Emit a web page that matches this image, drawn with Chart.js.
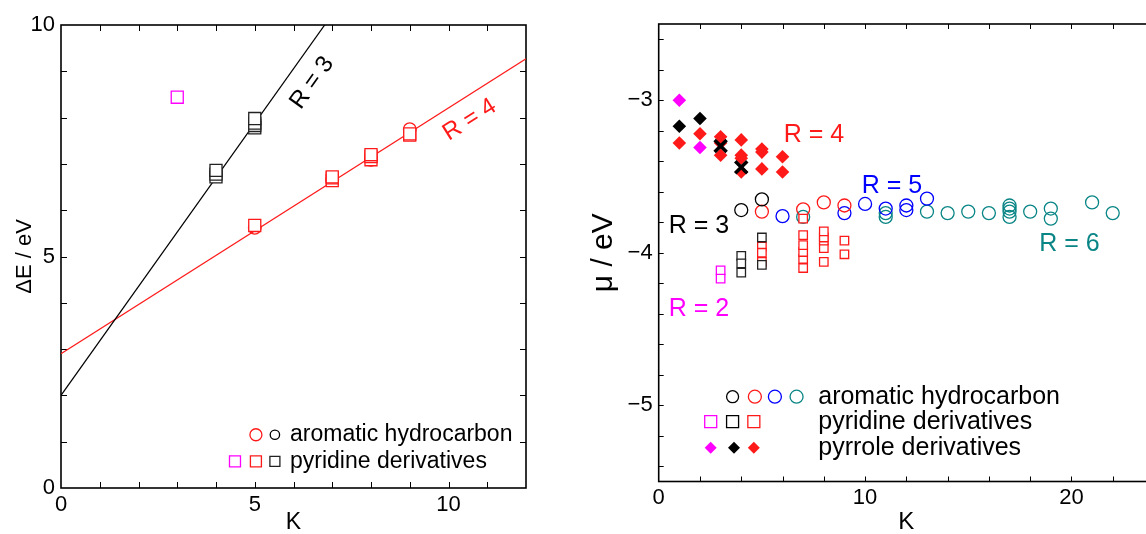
<!DOCTYPE html>
<html>
<head>
<meta charset="utf-8">
<script src="https://cdn.jsdelivr.net/npm/chart.js@4/dist/chart.umd.min.js"></script>
<style>
  html, body { margin: 0; padding: 0; background: #fff; overflow: hidden; width: 1146px; height: 534px; }
  #left { position: absolute; left: 0; top: 0; }
  #right { position: absolute; left: 580px; top: 0; }
</style>
</head>
<body>
<canvas id="left" width="560" height="534"></canvas>
<canvas id="right" width="600" height="534"></canvas>
<script>
// ---- left panel: gap dE (eV) against K ----
var leftMagSqK = [3];
var leftMagSqE = [8.44];
var leftBlkSqK = [4, 4, 4, 5, 5, 5, 5];
var leftBlkSqE = [6.72, 6.78, 6.86, 7.78, 7.83, 7.88, 7.98];
var leftRedCircK = [5, 7, 8, 9];
var leftRedCircE = [5.62, 6.66, 7.09, 7.75];
var leftRedSqK = [5, 7, 7, 7, 8, 8, 8, 9, 9];
var leftRedSqE = [5.67, 6.64, 6.70, 6.72, 7.09, 7.16, 7.20, 7.62, 7.65];
// fitted lines (end points)
var fitR3K = [0, 12];
var fitR3E = [2.0, 16.11];
var fitR4K = [0, 12];
var fitR4E = [2.9, 9.27];

var leftKTicks = [0, 1, 2, 3, 4, 5, 6, 7, 8, 9, 10, 11, 12];
var leftETicks = [0, 1, 2, 3, 4, 5, 6, 7, 8, 9, 10];

// ---- right panel: mu (eV) against K ----
// aromatic hydrocarbons (circles)
var aroR3K = [4, 5];
var aroR3Mu = [-3.72, -3.65];
var aroR4K = [5, 7, 8, 9];
var aroR4Mu = [-3.73, -3.715, -3.67, -3.69];
var aroR5K = [6, 9, 10, 11, 12, 12, 13];
var aroR5Mu = [-3.76, -3.74, -3.68, -3.71, -3.69, -3.72, -3.645];
var aroR6K = [7, 11, 11, 13, 14, 15, 16, 17, 17, 17, 17, 18, 19, 19, 21, 22];
var aroR6Mu = [-3.765, -3.74, -3.765, -3.73, -3.74, -3.73, -3.74, -3.69, -3.71, -3.73, -3.765, -3.73, -3.71, -3.776, -3.67, -3.74];
// pyridine derivatives (squares)
var pyrR2K = [3, 3];
var pyrR2Mu = [-4.115, -4.17];
var pyrR3K = [4, 4, 4, 5, 5];
var pyrR3Mu = [-4.02, -4.07, -4.13, -3.90, -4.08];
var pyrR4K = [5, 5, 5, 7, 7, 7, 7, 7, 7, 8, 8, 8, 8, 8, 9, 9];
var pyrR4Mu = [-3.96, -4.00, -4.06, -4.10, -4.04, -3.995, -3.95, -3.885, -3.776, -4.06, -3.97, -3.92, -3.90, -3.86, -4.01, -3.92];
// pyrrole derivatives (diamonds)
var polR2K = [1, 2];
var polR2Mu = [-3.0, -3.31];
var polR3K = [1, 2];
var polR3Mu = [-3.17, -3.12];
var polR3xK = [3, 4];
var polR3xMu = [-3.30, -3.44];
var polR4K = [1, 2, 3, 3, 3, 4, 4, 4, 4, 5, 5, 5, 6, 6];
var polR4Mu = [-3.28, -3.22, -3.24, -3.28, -3.36, -3.26, -3.36, -3.38, -3.47, -3.32, -3.34, -3.45, -3.37, -3.47];

var rightKTicks = [0, 2, 4, 6, 8, 10, 12, 14, 16, 18, 20, 22, 24];
var rightMuTicks = [-5.4, -5.2, -5, -4.8, -4.6, -4.4, -4.2, -4, -3.8, -3.6, -3.4, -3.2, -3, -2.8, -2.6];

var FONT = '"Liberation Sans", Arial, Helvetica, sans-serif';
var RED = '#ff1a1a', MAG = '#ff00ff', BLUE = '#0000ff', TEAL = '#0a8585', BLK = '#000000';

function pts(ks, ys) {
  return ks.map(function (k, i) { return {x: k, y: ys[i]}; });
}

function drawMark(ctx, style, x, y, s, color, lw) {
  ctx.save();
  ctx.strokeStyle = color;
  ctx.fillStyle = color;
  ctx.lineWidth = lw || 1.3;
  ctx.beginPath();
  if (style === 'circle') {
    ctx.arc(x, y, s, 0, Math.PI * 2);
    ctx.stroke();
  } else if (style === 'rect') {
    ctx.fillStyle = '#fff';
    ctx.rect(x - s, y - s, 2 * s, 2 * s);
    ctx.fill();
    ctx.stroke();
  } else if (style === 'diamond') {
    ctx.moveTo(x, y - s); ctx.lineTo(x + s, y); ctx.lineTo(x, y + s); ctx.lineTo(x - s, y);
    ctx.closePath();
    ctx.fill();
  }
  ctx.restore();
}

// frame + inward ticks on all four sides
function frameTicks(tickLen) {
  return {
    id: 'frameTicks',
    beforeDatasetsDraw: function (chart) {
      var ctx = chart.ctx, a = chart.chartArea;
      var sx = chart.scales.x, sy = chart.scales.y;
      ctx.save();
      ctx.strokeStyle = '#000';
      ctx.lineWidth = 1;
      ctx.beginPath();
      sx.ticks.forEach(function (t) {
        if (t.value <= sx.min || t.value >= sx.max) return;
        var p = Math.round(sx.getPixelForValue(t.value)) + 0.5;
        ctx.moveTo(p, a.bottom); ctx.lineTo(p, a.bottom - tickLen);
        ctx.moveTo(p, a.top); ctx.lineTo(p, a.top + tickLen);
      });
      sy.ticks.forEach(function (t) {
        if (t.value <= sy.min || t.value >= sy.max) return;
        var p = Math.round(sy.getPixelForValue(t.value)) + 0.5;
        ctx.moveTo(a.left, p); ctx.lineTo(a.left + tickLen, p);
        ctx.moveTo(a.right, p); ctx.lineTo(a.right - tickLen, p);
      });
      ctx.stroke();
      ctx.lineWidth = 1.6;
      ctx.strokeRect(a.left, a.top, a.right - a.left, a.bottom - a.top);
      ctx.restore();
    }
  };
}

// text labels and legend, placed in data coordinates
function notes(items, legend) {
  return {
    id: 'notes',
    afterDatasetsDraw: function (chart) {
      var ctx = chart.ctx, sx = chart.scales.x, sy = chart.scales.y;
      items.forEach(function (n) {
        ctx.save();
        ctx.translate(sx.getPixelForValue(n.k), sy.getPixelForValue(n.y));
        if (n.line) {
          var dx = sx.getPixelForValue(n.line[0][1]) - sx.getPixelForValue(n.line[0][0]);
          var dy = sy.getPixelForValue(n.line[1][1]) - sy.getPixelForValue(n.line[1][0]);
          ctx.rotate(Math.atan2(dy, dx));
        }
        ctx.font = n.size + 'px ' + FONT;
        ctx.fillStyle = n.color;
        ctx.textAlign = 'center';
        ctx.textBaseline = 'middle';
        ctx.fillText(n.text, 0, 0);
        ctx.restore();
      });
      legend.rows.forEach(function (row) {
        var py = sy.getPixelForValue(row.y);
        row.marks.forEach(function (m) {
          drawMark(ctx, m.style, sx.getPixelForValue(m.k), py, m.s, m.color, m.lw);
        });
        ctx.save();
        ctx.font = legend.size + 'px ' + FONT;
        ctx.fillStyle = '#000';
        ctx.textAlign = 'left';
        ctx.textBaseline = 'middle';
        ctx.fillText(row.text, sx.getPixelForValue(legend.textK), py);
        ctx.restore();
      });
    }
  };
}

function axis(o) {
  return {
    type: 'linear',
    position: o.position,
    min: o.min,
    max: o.max,
    grid: {display: false, drawTicks: false},
    border: {display: false},
    afterBuildTicks: function (s) { s.ticks = o.ticks.map(function (v) { return {value: v}; }); },
    afterFit: function (s) { if (o.width) s.width = o.width; if (o.height) s.height = o.height; },
    ticks: {
      autoSkip: false,
      maxRotation: 0,
      padding: o.pad,
      color: '#000',
      font: {family: FONT, size: 22},
      callback: o.label
    },
    title: {
      display: true,
      text: o.title,
      color: '#000',
      font: {family: FONT, size: o.titleSize, lineHeight: 1},
      padding: o.titlePad
    }
  };
}

function scatterSet(ks, ys, style, color, r, order, fill, lw) {
  return {
    type: 'scatter',
    data: pts(ks, ys),
    pointStyle: style,
    pointRadius: r,
    pointBorderWidth: lw === undefined ? 1.3 : lw,
    borderColor: color,
    backgroundColor: fill || 'transparent',
    order: order
  };
}

function lineSet(ks, ys, color) {
  return {
    type: 'line',
    data: pts(ks, ys),
    borderColor: color,
    borderWidth: 1.2,
    pointRadius: 0,
    showLine: true,
    fill: false,
    order: 20
  };
}

var common = {
  responsive: false,
  animation: false,
  devicePixelRatio: 1,
  plugins: {legend: {display: false}, tooltip: {enabled: false}}
};

// ---------- left chart ----------
new Chart(document.getElementById('left').getContext('2d'), {
  type: 'scatter',
  data: {
    datasets: [
      lineSet(fitR3K, fitR3E, BLK),
      lineSet(fitR4K, fitR4E, RED),
      scatterSet(leftRedCircK, leftRedCircE, 'circle', RED, 6.3, 8),
      scatterSet(leftRedSqK, leftRedSqE, 'rect', RED, 8.5, 6, '#fff'),
      scatterSet(leftBlkSqK, leftBlkSqE, 'rect', '#222', 8.5, 5, '#fff'),
      scatterSet(leftMagSqK, leftMagSqE, 'rect', MAG, 8.5, 4, '#fff')
    ]
  },
  options: Object.assign({}, common, {
    layout: {padding: {left: 0, top: 25, right: 34, bottom: 0}},
    scales: {
      x: axis({position: 'bottom', min: 0, max: 12, ticks: leftKTicks, height: 46, pad: 4,
        label: function (v) { return v % 5 === 0 ? String(v) : ''; },
        title: 'K', titleSize: 23, titlePad: {top: 0, bottom: 0}}),
      y: axis({position: 'left', min: 0, max: 10, ticks: leftETicks, width: 61, pad: 6,
        label: function (v) { return v % 5 === 0 ? String(v) : ''; },
        title: '\u0394E / eV', titleSize: 22, titlePad: {top: 14, bottom: 0}})
    }
  }),
  plugins: [
    frameTicks(6),
    notes([
      {text: 'R = 3', k: 6.48, y: 8.75, color: BLK, size: 24, line: [fitR3K, fitR3E]},
      {text: 'R = 4', k: 10.55, y: 7.95, color: RED, size: 24, line: [fitR4K, fitR4E]}
    ], {
      size: 23, textK: 5.91,
      rows: [
        {y: 1.15, text: 'aromatic hydrocarbon', marks: [
          {style: 'circle', k: 5.03, s: 6, color: RED},
          {style: 'circle', k: 5.52, s: 4.7, color: BLK}]},
        {y: 0.575, text: 'pyridine derivatives', marks: [
          {style: 'rect', k: 4.49, s: 5.5, color: MAG},
          {style: 'rect', k: 5.03, s: 5.5, color: RED},
          {style: 'rect', k: 5.52, s: 5, color: '#222'}]}
      ]
    })
  ]
});

// ---------- right chart ----------
new Chart(document.getElementById('right').getContext('2d'), {
  type: 'scatter',
  data: {
    datasets: [
      scatterSet(aroR6K, aroR6Mu, 'circle', TEAL, 6.5, 12),
      scatterSet(aroR5K, aroR5Mu, 'circle', BLUE, 6.5, 11),
      scatterSet(aroR4K, aroR4Mu, 'circle', RED, 6.5, 10),
      scatterSet(aroR3K, aroR3Mu, 'circle', BLK, 6.5, 9),
      scatterSet(pyrR4K, pyrR4Mu, 'rect', RED, 6, 8, '#fff'),
      scatterSet(pyrR3K, pyrR3Mu, 'rect', '#222', 6, 7, '#fff'),
      scatterSet(pyrR2K, pyrR2Mu, 'rect', MAG, 6, 6, '#fff'),
      scatterSet(polR3K, polR3Mu, 'rectRot', BLK, 6.8, 5, BLK, 0),
      scatterSet(polR2K, polR2Mu, 'rectRot', MAG, 6.8, 4, MAG, 0),
      scatterSet(polR4K, polR4Mu, 'rectRot', RED, 6.8, 3, RED, 0),
      scatterSet(polR3xK, polR3xMu, 'crossRot', BLK, 8.5, 2, BLK, 3.5)
    ]
  },
  options: Object.assign({}, common, {
    layout: {padding: {left: 0, top: 24, right: 26, bottom: 0}},
    scales: {
      x: axis({position: 'bottom', min: 0, max: 24, ticks: rightKTicks, height: 52.5, pad: 3,
        label: function (v) { return v % 10 === 0 ? String(v) : ''; },
        title: 'K', titleSize: 24, titlePad: {top: 0, bottom: 0}}),
      y: axis({position: 'left', min: -5.5, max: -2.5, ticks: rightMuTicks, width: 78.7, pad: 6,
        label: function (v) { return Math.abs(v - Math.round(v)) < 1e-9 ? '\u2212' + Math.abs(Math.round(v)) : ''; },
        title: '\u03bc / eV', titleSize: 30, titlePad: {top: 9, bottom: 0}})
    }
  }),
  plugins: [
    frameTicks(5),
    notes([
      {text: 'R = 4', k: 7.52, y: -3.228, color: RED, size: 25},
      {text: 'R = 5', k: 11.3, y: -3.562, color: BLUE, size: 25},
      {text: 'R = 6', k: 19.9, y: -3.943, color: TEAL, size: 25},
      {text: 'R = 3', k: 1.95, y: -3.825, color: BLK, size: 25},
      {text: 'R = 2', k: 1.95, y: -4.37, color: MAG, size: 25}
    ], {
      size: 25, textK: 7.73,
      rows: [
        {y: -4.944, text: 'aromatic hydrocarbon', marks: [
          {style: 'circle', k: 3.58, s: 6, color: BLK},
          {style: 'circle', k: 4.66, s: 6.5, color: RED},
          {style: 'circle', k: 5.63, s: 6.5, color: BLUE},
          {style: 'circle', k: 6.68, s: 6.5, color: TEAL}]},
        {y: -5.108, text: 'pyridine derivatives', marks: [
          {style: 'rect', k: 2.52, s: 6, color: MAG},
          {style: 'rect', k: 3.58, s: 6, color: BLK},
          {style: 'rect', k: 4.61, s: 6, color: RED}]},
        {y: -5.278, text: 'pyrrole derivatives', marks: [
          {style: 'diamond', k: 2.52, s: 6, color: MAG},
          {style: 'diamond', k: 3.65, s: 6, color: BLK},
          {style: 'diamond', k: 4.61, s: 6, color: RED}]}
      ]
    })
  ]
});
</script>
</body>
</html>
